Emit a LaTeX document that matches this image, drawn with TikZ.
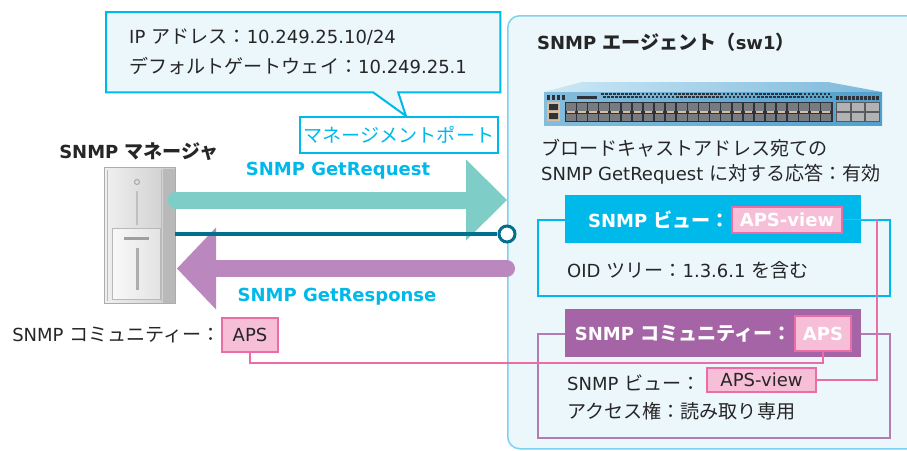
\documentclass[tikz,border=0pt]{standalone}
\usepackage{fontspec}
\setmainfont{DejaVu Sans}
\newfontfamily\jpfont[Scale=1.06]{Noto Sans CJK JP}
\newcommand{\jp}[1]{{\jpfont #1}}
\usepackage{tikz}
\usetikzlibrary{positioning,calc,backgrounds}
\definecolor{snmpcyan}{RGB}{0,185,235}
\definecolor{snmppaper}{RGB}{236,247,252}
\definecolor{snmpframe}{RGB}{125,210,240}
\definecolor{snmpteal}{RGB}{126,205,198}
\definecolor{snmplink}{RGB}{0,112,140}
\definecolor{snmpmauve}{RGB}{186,136,190}
\definecolor{snmppurple}{RGB}{165,100,166}
\definecolor{snmppink}{RGB}{247,190,216}
\definecolor{snmprose}{RGB}{236,108,166}
\definecolor{snmpink}{RGB}{38,38,38}
\definecolor{swsky}{RGB}{205,232,246}
\definecolor{swblue}{RGB}{80,160,205}
\definecolor{swdark}{RGB}{45,50,58}
\definecolor{swtan}{RGB}{215,190,160}

\tikzset{
  txt/.style={font=\fontsize{18pt}{22pt}\selectfont, text=snmpink, inner sep=0pt},
  bold/.style={txt, font=\fontsize{18pt}{22pt}\selectfont\bfseries},
  pinkbox/.style={draw=snmprose, line width=2pt, fill=snmppink},
  headbox/.style={minimum width=296pt, minimum height=48pt, inner sep=0pt},
  frame/.style={line width=2pt, minimum width=352pt, inner sep=0pt},
  pinkline/.style={snmprose, line width=1.5pt},
  reqshaft/.style={snmpteal, line width=17pt, line cap=round},
  resshaft/.style={snmpmauve, line width=17pt, line cap=round},
  linkline/.style={snmplink, line width=4pt},
}

\begin{document}
\begin{tikzpicture}[x=1pt,y=-1pt]
\useasboundingbox (0,0) rectangle (907,450);
\begin{pgfonlayer}{background}
\fill[white] (0,0) rectangle (907,450);
\end{pgfonlayer}

% agent enclosure
\node[draw=snmpframe, line width=1.5pt, fill=snmppaper, rounded corners=12pt,
      minimum width=440pt, minimum height=433pt, anchor=north west] (agent) at (507,15) {};

% address balloon and management port
\node[txt, font=\fontsize{18pt}{30pt}\selectfont, anchor=north west, align=left,
      text width=348pt, inner xsep=23pt, minimum height=80pt] (callout) at (106,12)
  {IP \jp{アドレス：}10.249.25.10/24\\\jp{デフォルトゲートウェイ：}10.249.25.1};
\node[draw=snmpcyan, line width=2pt, fill=white, text=snmpcyan, inner sep=0pt,
      font=\fontsize{18pt}{22pt}\selectfont, minimum width=198pt, minimum height=36pt]
  (port) at (399,135) {\jp{マネージメントポート}};
\begin{pgfonlayer}{background}
\draw[snmpcyan, line width=2pt, fill=snmppaper, line join=miter]
  (callout.north west) -- (callout.north east) -- (callout.south east)
  -- ($(callout.south)+(95,0)$) -- ($(port.north)+(7,0)$)
  -- ($(callout.south)+(70,0)$) -- (callout.south west) -- cycle;
\end{pgfonlayer}

% manager
\node[bold] (mgrlabel) at (139,152) {SNMP \jp{マネージャ}};
\node[minimum width=70pt, minimum height=135pt, inner sep=0pt] (server) at (140,235.5) {};
\shade[left color=gray!12, right color=gray!40, draw=gray!65, line width=1pt]
  (server.north west) rectangle (server.south east);
\fill[gray!55] (163,168.5) rectangle (175,302.5);
\draw[gray!55] (107.5,170) -- (107.5,301) (161,170) -- (161,301);
\draw[gray!70, line width=1pt] (137,182) circle (2.5);
\draw[gray!50, line width=1.5pt] (137,191) -- (137,225);
\shade[left color=gray!5, right color=gray!22, draw=gray!55] (112,228) rectangle (160,299);
\draw[gray!75, line width=3pt] (124,238) -- (149,238);
\draw[gray!65, line width=3pt] (137,248) -- (137,290);

% request / response
\coordinate (req-s) at (176,200);
\coordinate (req-e) at (507,200);
\draw[reqshaft] (req-s) -- ($(req-e)+(-41,0)$);
\fill[snmpteal] (req-e) -- ++(-41,-40.5) -- ++(0,81) -- cycle;
\coordinate (res-s) at (506.5,268.5);
\coordinate (res-e) at (177,268.5);
\draw[resshaft] (res-s) -- ($(res-e)+(39,0)$);
\fill[snmpmauve] (res-e) -- ++(39,-41) -- ++(0,82) -- cycle;
\node[bold, text=snmpcyan] (reqlabel) at (338,171) {SNMP GetRequest};
\node[bold, text=snmpcyan] (reslabel) at (337,297) {SNMP GetResponse};

% management link
\node[circle, draw=snmplink, line width=3pt, fill=white, minimum size=16pt, inner sep=0pt] (mgmt) at (507,234) {};
\draw[linkline] (server.east |- mgmt) -- ($(mgmt.west)+(-1,0)$);

% manager community
\node[pinkbox, txt, minimum width=56pt, minimum height=34pt] (mgraps) at (250,335) {APS};
\node[txt, left=0pt of mgraps] (mgrcomm) {SNMP \jp{コミュニティー：}};

% agent title and switch
\node[bold, anchor=west] (agenttitle) at (537,42) {SNMP \jp{エージェント（}sw1\jp{）}};
\shade[left color=swsky, right color=swblue!75] (582,82) -- (828,82) -- (882,92) -- (544,92) -- cycle;
\shade[left color=swblue!70, right color=swblue] (544,92) rectangle (882,125);
\foreach \v in {0,...,56} {
  \fill[swdark] (601+\v*4.05,92.5) rectangle ++(2.6,2);
  \fill[swdark] (603+\v*4.05,96) rectangle ++(2.6,2);
}
\foreach \v in {0,...,3} \fill[swdark] (547+\v*5,95) rectangle ++(3,5);
\fill[swdark] (577,96) rectangle (597,99);
\fill[swtan] (547,102) rectangle (560,121);
\fill[swdark] (549,104) rectangle (558,110) (549,113) rectangle (558,119);
\fill[swdark] (565,102) rectangle (833,122);
\foreach \p in {0,...,23} {
  \fill[swdark!65!white] (566+\p*11.1,103) rectangle ++(9.5,7.5);
  \fill[swdark!65!white] (566+\p*11.1,113.5) rectangle ++(9.5,7.5);
  \fill[swtan] (567+\p*11.1,110.7) rectangle ++(7.5,2.3);
}
\fill[swdark!80] (836,102) rectangle (880,122);
\foreach \q in {0,1,2} {
  \fill[gray!60] (837+\q*14.5,103) rectangle ++(12.5,8);
  \fill[gray!60] (837+\q*14.5,113) rectangle ++(12.5,8);
}
\foreach \v in {0,...,10} \fill[swdark] (836+\v*4,96) rectangle ++(2.6,4);

\node[txt, font=\fontsize{18pt}{25pt}\selectfont, anchor=west, align=left] (bcast) at (541,162)
  {\jp{ブロードキャストアドレス宛ての}\\SNMP GetRequest \jp{に対する応答：有効}};

% view
\node[frame, draw=snmpcyan, minimum height=76pt, anchor=north west] (viewframe) at (537,219) {};
\node[headbox, fill=snmpcyan] (viewhead) at (713,219) {};
\node[pinkbox, bold, text=white, minimum width=110pt, minimum height=26pt] (viewname) at (787,219.5) {APS-view};
\node[bold, text=white, left=1pt of viewname] (viewtitle) {SNMP \jp{ビュー：}};
\node[txt, anchor=west] (oid) at (567,270) {OID \jp{ツリー：}1.3.6.1 \jp{を含む}};

% community
\node[frame, draw=snmppurple!85, minimum height=104pt, anchor=north west] (commframe) at (537,333) {};
\node[headbox, fill=snmppurple] (commhead) at (713,333) {};
\node[pinkbox, bold, text=white, minimum width=56pt, minimum height=35pt] (agaps) at (823,333.5) {APS};
\node[bold, text=white, left=2pt of agaps] (commtitle) {SNMP \jp{コミュニティー：}};
\node[txt, anchor=west] (cviewlabel) at (567,383) {SNMP \jp{ビュー：}};
\node[pinkbox, txt, minimum width=109pt, minimum height=24pt] (cviewname) at (761.5,380) {APS-view};
\node[txt, anchor=west] (access) at (567,411) {\jp{アクセス権：読み取り専用}};

% matching names
\draw[pinkline] (mgraps.south) -- ++(0,10) -| (agaps.south);
\draw[pinkline] (viewname.east) -- ++(34,0) |- (cviewname.east);
\end{tikzpicture}
\end{document}
